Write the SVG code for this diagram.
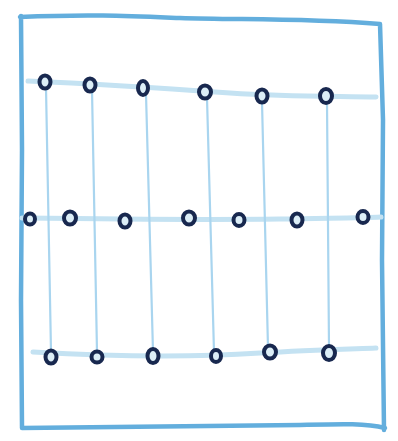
<svg xmlns="http://www.w3.org/2000/svg" width="398" height="441" viewBox="0 0 398 441">
<style>
.frame{fill:none;stroke:#63aedd;stroke-width:4.5;stroke-linecap:round;stroke-linejoin:round}
.h{fill:none;stroke:#c4e2f2;stroke-width:5;stroke-linecap:round}
.v{fill:none;stroke:#a9d5ef;stroke-width:2.2;stroke-linecap:round}
.dot{fill:#dceef7;stroke:#18284f;stroke-width:4}
</style>
<rect width="398" height="441" fill="#ffffff"/>
<g id="frame">
<path class="frame" d="M20,17 C90,14 130,16 180,18 C240,20 300,18 380,24 L383,120 L382,260 L384,430 M21,16 L22,150 L21,300 L22,428 C100,427 200,426 300,425 C340,424 365,423 385,428"/>
</g>
<g id="connectors">
<path class="h" d="M28,81 C100,84 160,88 230,93 C290,97 340,96 376,97"/>
<path class="h" d="M22,218 C100,219 200,220 280,219 C330,218 360,218 381,217"/>
<path class="h" d="M33,352 C120,357 200,357 260,353 C310,350 350,349 376,348"/>
<path class="v" d="M46,88 L51,352"/>
<path class="v" d="M92,90 L97,352"/>
<path class="v" d="M146,94 L153,352"/>
<path class="v" d="M207,98 L214,352"/>
<path class="v" d="M262,102 L268,348"/>
<path class="v" d="M327,102 L329,348"/>
</g>
<g id="n1"><ellipse class="dot" cx="45" cy="82" rx="5.5" ry="6.5"/></g>
<g id="n2"><ellipse class="dot" cx="90" cy="85" rx="5.5" ry="6.5"/></g>
<g id="n3"><ellipse class="dot" cx="143" cy="88" rx="5" ry="7"/></g>
<g id="n4"><ellipse class="dot" cx="205" cy="92" rx="6" ry="6.5"/></g>
<g id="n5"><ellipse class="dot" cx="262" cy="96" rx="5.5" ry="6.5"/></g>
<g id="n6"><ellipse class="dot" cx="326" cy="96" rx="6" ry="7"/></g>
<g id="n7"><ellipse class="dot" cx="30" cy="219" rx="5" ry="5.5"/></g>
<g id="n8"><ellipse class="dot" cx="70" cy="218" rx="6" ry="6.5"/></g>
<g id="n9"><ellipse class="dot" cx="125" cy="221" rx="5.5" ry="6.5"/></g>
<g id="n10"><ellipse class="dot" cx="189" cy="218" rx="6" ry="6.5"/></g>
<g id="n11"><ellipse class="dot" cx="239" cy="220" rx="5.5" ry="6"/></g>
<g id="n12"><ellipse class="dot" cx="297" cy="220" rx="5.5" ry="6.5"/></g>
<g id="n13"><ellipse class="dot" cx="363" cy="217" rx="5.5" ry="6"/></g>
<g id="n14"><ellipse class="dot" cx="51" cy="357" rx="5.5" ry="6.5"/></g>
<g id="n15"><ellipse class="dot" cx="97" cy="357" rx="5.5" ry="5.5"/></g>
<g id="n16"><ellipse class="dot" cx="153" cy="356" rx="5.5" ry="7"/></g>
<g id="n17"><ellipse class="dot" cx="216" cy="356" rx="5" ry="6"/></g>
<g id="n18"><ellipse class="dot" cx="270" cy="352" rx="6" ry="6.5"/></g>
<g id="n19"><ellipse class="dot" cx="329" cy="353" rx="6" ry="7"/></g>
</svg>
